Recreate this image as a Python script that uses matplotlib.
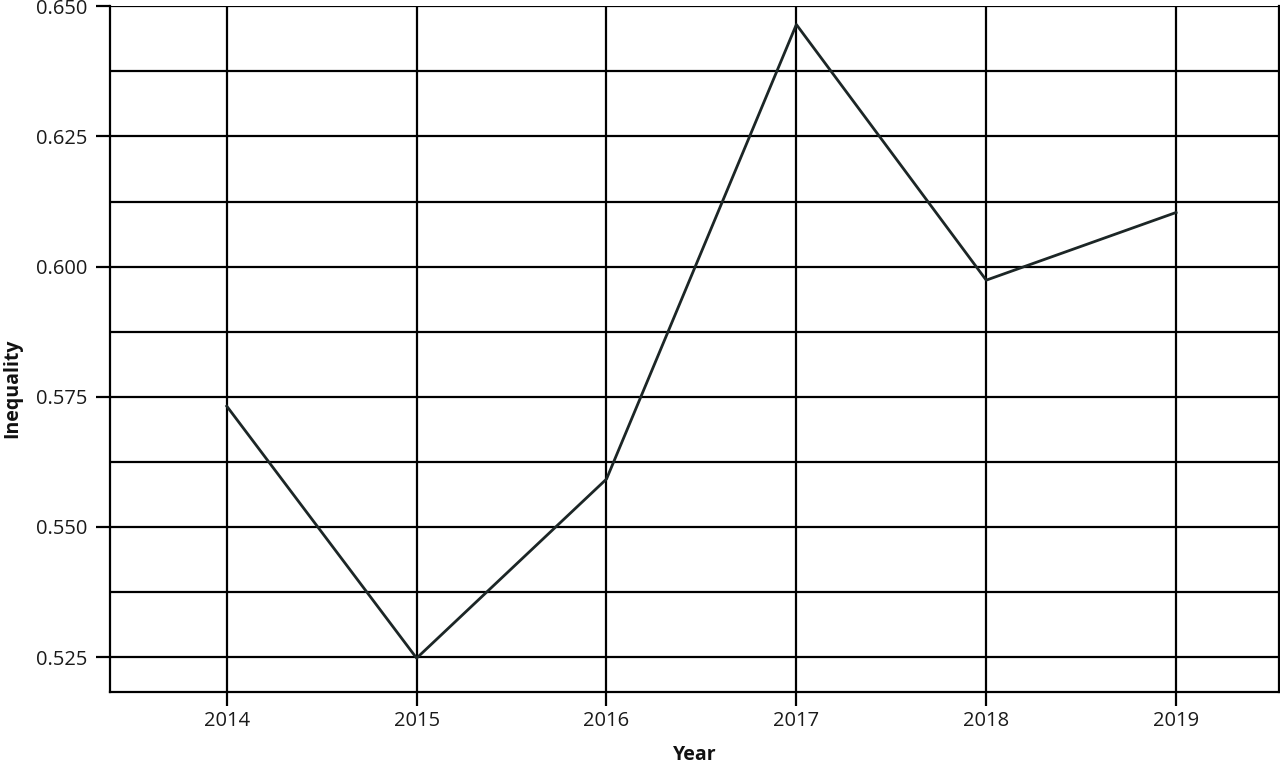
import matplotlib
matplotlib.use("Agg")
import matplotlib.pyplot as plt
from matplotlib.ticker import MultipleLocator, FormatStrFormatter

years = [2014, 2015, 2016, 2017, 2018, 2019]
inequality = [0.5732, 0.5248, 0.5592, 0.6465, 0.5974, 0.6104]
y_ticks = [0.525, 0.550, 0.575, 0.600, 0.625, 0.650]

plt.rcParams['font.family'] = ['Open Sans', 'DejaVu Sans']

fig = plt.figure(figsize=(12.8, 7.66), dpi=100)
ax = fig.add_axes([110/1280, 1 - 692/766, (1279-110)/1280, (692-6.3)/766])

ax.set_xlim(2013.385, 2019.542)
ax.set_ylim(0.5183, 0.650)

ax.set_xticks(years)
ax.set_xticklabels([str(y) for y in years])
ax.set_yticks(y_ticks)
ax.yaxis.set_major_formatter(FormatStrFormatter('%.3f'))
ax.yaxis.set_minor_locator(MultipleLocator(0.0125))

ax.grid(True, which='major', axis='both', color='black', linewidth=1.6)
ax.grid(True, which='minor', axis='y', color='black', linewidth=1.6)
ax.set_axisbelow(True)

ax.plot(years, inequality, color='#1c2626', linewidth=2.0, zorder=3)

for s in ['left', 'bottom', 'right']:
    ax.spines[s].set_linewidth(1.6)
    ax.spines[s].set_color('black')
ax.spines['top'].set_visible(False)

ax.tick_params(axis='both', which='major', length=10, width=1.6, color='black',
               labelsize=14.5, labelcolor='#1a1a1a', pad=6)
ax.tick_params(axis='y', which='minor', length=0)
ax.tick_params(axis='x', pad=4)

fig.text(695/1280, 1 - 765/766, 'Year', fontsize=14, fontweight='bold',
         ha='center', va='bottom', color='#111111')
fig.text(12/1280, 1 - 388/766, 'Inequality', fontsize=14, fontweight='bold',
         ha='center', va='center', rotation=90, color='#111111')

fig.savefig('out.png', dpi=100)
